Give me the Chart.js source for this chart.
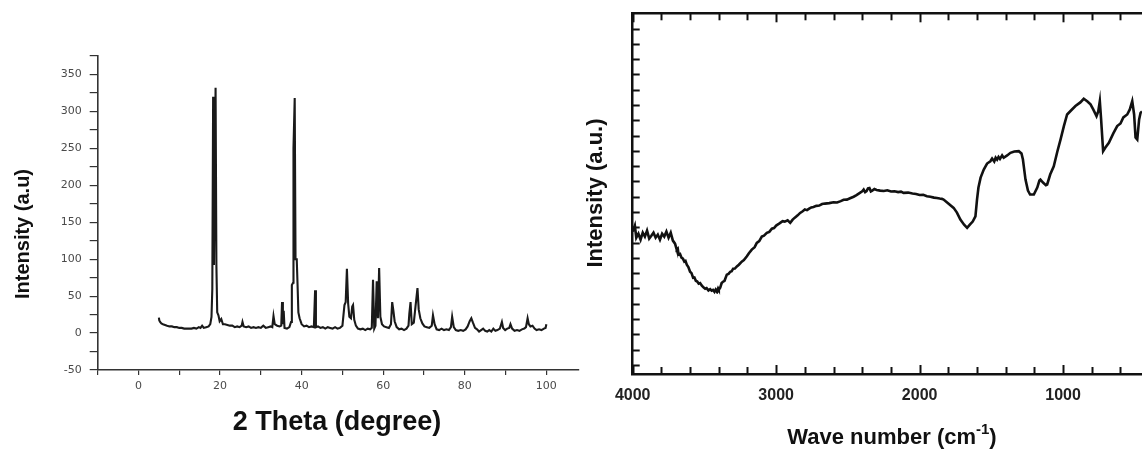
<!DOCTYPE html>
<html>
<head>
<meta charset="utf-8">
<title>XRD and FTIR</title>
<script src="https://cdn.jsdelivr.net/npm/chart.js@4.4.1/dist/chart.umd.min.js"></script>
<style>
    html, body { margin: 0; padding: 0; background: #fff; overflow: hidden; }
    body { width: 1142px; height: 450px; position: relative; }
    .panel { position: absolute; top: 0; }
    #xrdPanel { left: 0; width: 580px; height: 450px; }
    #ftirPanel { left: 580px; width: 562px; height: 450px; }
</style>
</head>
<body>
<div class="panel" id="xrdPanel"><canvas id="xrdChart" width="580" height="450"></canvas></div>
<div class="panel" id="ftirPanel"><canvas id="ftirChart" width="562" height="450"></canvas></div>
<script>
// ---- XRD pattern (left) ----
const xrdTheta = [
    5.0, 5.1, 5.3, 5.6, 6.0, 6.5, 7.0, 7.6, 8.2, 8.8,
    9.4, 10.0, 10.6, 11.2, 11.8, 12.4, 13.0, 13.6, 14.2, 14.8,
    15.2, 15.6, 16.0, 16.6, 17.2, 17.6, 17.9, 18.1, 18.3, 18.5,
    18.9, 19.1, 19.3, 19.6, 19.9, 20.3, 20.7, 21.2, 21.8, 22.4,
    23.0, 23.6, 24.2, 24.8, 25.3, 25.5, 25.8, 26.4, 27.0, 27.6,
    28.2, 28.8, 29.4, 30.0, 30.6, 31.2, 31.8, 32.4, 32.8, 33.1,
    33.4, 34.0, 34.6, 35.0, 35.2, 35.4, 35.6, 35.8, 36.4, 37.0,
    37.4, 37.6, 37.9, 38.0, 38.3, 38.5, 38.8, 39.0, 39.2, 39.5,
    40.0, 40.6, 41.2, 41.8, 42.4, 43.0, 43.3, 43.5, 44.0, 44.6,
    45.2, 45.8, 46.4, 47.0, 47.6, 48.2, 48.8, 49.4, 50.0, 50.5,
    50.8, 51.1, 51.4, 51.7, 52.1, 52.4, 52.6, 52.9, 53.3, 53.8,
    54.4, 55.0, 55.6, 56.2, 56.8, 57.2, 57.5, 57.8, 58.1, 58.4,
    58.7, 59.0, 59.3, 59.7, 60.2, 60.8, 61.4, 61.9, 62.2, 62.5,
    62.8, 63.3, 63.9, 64.5, 65.1, 65.7, 66.2, 66.4, 66.7, 67.0,
    67.5, 67.9, 68.4, 68.7, 69.1, 69.6, 70.1, 70.7, 71.3, 71.9,
    72.2, 72.6, 73.1, 73.7, 74.3, 74.9, 75.5, 76.1, 76.6, 76.9,
    77.3, 77.8, 78.4, 79.0, 79.6, 80.2, 80.7, 81.2, 81.6, 82.0,
    82.5, 83.0, 83.5, 84.0, 84.5, 85.0, 85.5, 86.0, 86.5, 87.0,
    87.5, 88.0, 88.6, 89.1, 89.4, 89.9, 90.4, 90.9, 91.2, 91.6,
    92.2, 92.8, 93.4, 94.0, 94.6, 95.0, 95.4, 95.7, 96.1, 96.6,
    97.1, 97.6, 98.2, 98.8, 99.4, 99.8, 100.0
];
const xrdIntensity = [
    21, 17, 15, 13, 12, 11, 10, 9, 9, 8,
    8, 7, 7, 6, 6, 6, 6, 7, 6, 8,
    7, 10, 7, 8, 9, 12, 22, 60, 320, 92,
    332, 92, 28, 24, 16, 19, 12, 12, 11, 10,
    10, 8, 9, 8, 10, 15, 9, 8, 9, 7,
    8, 7, 8, 7, 10, 7, 8, 9, 8, 23,
    12, 10, 9, 10, 42, 12, 30, 7, 6, 8,
    15, 65, 68, 250, 318, 100, 100, 65, 28, 20,
    12, 9, 10, 8, 9, 8, 58, 8, 9, 7,
    8, 6, 8, 7, 6, 8, 6, 7, 10, 38,
    42, 87, 40, 22, 20, 36, 38, 18, 10, 6,
    5, 6, 4, 6, 5, 7, 72, 6, 10, 70,
    20, 88, 22, 12, 9, 8, 7, 12, 42, 30,
    16, 8, 5, 6, 4, 6, 10, 26, 42, 12,
    14, 35, 61, 32, 20, 13, 9, 8, 7, 10,
    24, 12, 5, 4, 6, 4, 5, 4, 8, 22,
    8, 4, 3, 4, 3, 5, 9, 16, 20, 14,
    7, 5, 2, 4, 6, 3, 2, 4, 2, 6,
    3, 4, 6, 15, 7, 4, 6, 7, 12, 6,
    3, 4, 3, 5, 6, 8, 20, 12, 9, 10,
    6, 4, 5, 4, 6, 7, 12
];
const xrdXTicks = [-10, 0, 10, 20, 30, 40, 50, 60, 70, 80, 90, 100];
const xrdXLabels = [0, 20, 40, 60, 80, 100];
const xrdYTicks = [-50, -25, 0, 25, 50, 75, 100, 125, 150, 175, 200, 225, 250, 275, 300, 325, 350, 375];
const xrdYLabels = [-50, 0, 50, 100, 150, 200, 250, 300, 350];

// ---- FTIR spectrum (right) ----
const ftirWavenumber = [
    4000, 3985, 3975, 3960, 3945, 3930, 3915, 3900, 3885, 3870,
    3855, 3840, 3825, 3810, 3795, 3780, 3765, 3750, 3735, 3720,
    3705, 3698, 3693, 3686, 3680, 3670, 3660, 3650, 3640, 3632,
    3623, 3612, 3600, 3590, 3579, 3570, 3560, 3550, 3540, 3530,
    3518, 3505, 3495, 3485, 3472, 3460, 3450, 3440, 3430, 3422,
    3414, 3405, 3400, 3390, 3380, 3370, 3360, 3344, 3332, 3320,
    3310, 3300, 3288, 3274, 3260, 3240, 3225, 3204, 3190, 3170,
    3150, 3135, 3118, 3100, 3085, 3065, 3048, 3030, 3015, 3000,
    2985, 2972, 2955, 2940, 2920, 2902, 2885, 2870, 2850, 2833,
    2815, 2800, 2785, 2770, 2755, 2740, 2720, 2700, 2680, 2660,
    2630, 2600, 2575, 2550, 2530, 2507, 2485, 2460, 2440, 2414,
    2400, 2390, 2380, 2370, 2360, 2350, 2340, 2330, 2315, 2300,
    2275, 2250, 2225, 2200, 2175, 2150, 2130, 2112, 2080, 2050,
    2025, 2000, 1975, 1949, 1925, 1900, 1880, 1860, 1845, 1833,
    1800, 1763, 1740, 1716, 1690, 1669, 1650, 1630, 1611, 1600,
    1590, 1575, 1553, 1530, 1507, 1495, 1480, 1470, 1460, 1450,
    1440, 1425, 1414, 1390, 1367, 1340, 1309, 1290, 1280, 1262,
    1245, 1230, 1204, 1180, 1165, 1158, 1140, 1120, 1111, 1090,
    1065, 1040, 1018, 995, 972, 945, 914, 880, 856, 830,
    809, 790, 767, 755, 744, 735, 721, 705, 681, 650,
    623, 600, 580, 553, 535, 518, 505, 495, 483, 470,
    460, 450
];
const ftirIntensity = [
    8.72, 9.11, 8.32, 8.58, 8.19, 8.65, 8.39, 8.78, 8.26, 8.45,
    8.65, 8.32, 8.52, 8.19, 8.58, 8.39, 8.72, 8.32, 8.65, 8.13,
    7.93, 7.70, 7.54, 7.60, 7.21, 7.25, 7.01, 6.95, 6.75, 6.80,
    6.55, 6.40, 6.09, 6.00, 5.70, 5.72, 5.50, 5.45, 5.31, 5.35,
    5.18, 5.05, 4.98, 5.02, 4.87, 4.95, 4.85, 4.90, 4.78, 4.92,
    4.80, 5.00, 4.91, 5.05, 5.35, 5.44, 5.50, 5.90, 5.95, 6.09,
    6.12, 6.29, 6.30, 6.44, 6.55, 6.75, 6.85, 7.10, 7.30, 7.54,
    7.70, 7.98, 8.10, 8.39, 8.45, 8.63, 8.70, 8.91, 8.95, 9.11,
    9.20, 9.29, 9.40, 9.37, 9.45, 9.29, 9.50, 9.63, 9.78, 9.94,
    10.05, 10.16, 10.12, 10.22, 10.30, 10.33, 10.40, 10.42, 10.52, 10.55,
    10.58, 10.64, 10.62, 10.71, 10.80, 10.81, 10.90, 11.00, 11.10, 11.27,
    11.35, 11.47, 11.30, 11.37, 11.55, 11.57, 11.35, 11.40, 11.50, 11.44,
    11.40, 11.37, 11.42, 11.34, 11.36, 11.30, 11.33, 11.25, 11.27, 11.21,
    11.18, 11.11, 11.12, 11.03, 11.00, 10.94, 10.92, 10.88, 10.86, 10.81,
    10.55, 10.27, 9.96, 9.50, 9.17, 8.96, 9.17, 9.37, 9.72, 10.81,
    11.60, 12.25, 12.78, 13.17, 13.32, 13.50, 13.30, 13.55, 13.43, 13.60,
    13.47, 13.70, 13.55, 13.70, 13.87, 13.96, 13.98, 13.83, 13.43, 12.12,
    11.40, 11.14, 11.14, 11.60, 12.06, 12.12, 11.93, 11.76, 11.80, 12.45,
    12.99, 13.96, 14.74, 15.60, 16.38, 16.64, 16.93, 17.17, 17.41, 17.23,
    17.04, 16.71, 16.27, 16.58, 17.25, 16.06, 13.98, 14.22, 14.53, 15.14,
    15.62, 15.79, 16.19, 16.38, 16.71, 17.25, 16.38, 14.88, 14.74, 16.06,
    16.49, 16.58
];
const ftirXTicks = [4000, 3800, 3600, 3400, 3200, 3000, 2800, 2600, 2400, 2200, 2000,
    1800, 1600, 1400, 1200, 1000, 800, 600];
const ftirXLabels = [4000, 3000, 2000, 1000];
const ftirYTicks = [0, 1, 2, 3, 4, 5, 6, 7, 8, 9, 10, 11, 12, 13, 14, 15, 16, 17, 18, 19, 20, 21, 22];

// draws tick marks pointing into the plot area
const inwardTicks = {
    id: 'inwardTicks',
    afterDatasetsDraw(chart, args, opts) {
        const ctx = chart.ctx;
        const area = chart.chartArea;
        ctx.save();
        ctx.strokeStyle = opts.color;
        ctx.lineWidth = opts.width;
        Object.values(chart.scales).forEach(scale => {
            scale.ticks.forEach(t => {
                const p = Math.round(scale.getPixelForValue(t.value)) + 0.5;
                let len = opts.length;
                if (scale.isHorizontal() && t.value % opts.majorStep === 0) len = opts.majorLength;
                ctx.beginPath();
                if (scale.position === 'bottom') {
                    ctx.moveTo(p, area.bottom);
                    ctx.lineTo(p, area.bottom - len);
                } else if (scale.position === 'top') {
                    ctx.moveTo(p, area.top);
                    ctx.lineTo(p, area.top + len);
                } else {
                    ctx.moveTo(area.left, p);
                    ctx.lineTo(area.left + len, p);
                }
                ctx.stroke();
            });
        });
        ctx.restore();
    }
};

// axis titles, with optional superscript part
const axisTitles = {
    id: 'axisTitles',
    afterDraw(chart, args, opts) {
        const ctx = chart.ctx;
        opts.items.forEach(item => {
            ctx.save();
            ctx.translate(item.x, item.y);
            ctx.rotate(item.rotate || 0);
            ctx.fillStyle = item.color;
            ctx.textBaseline = 'middle';
            if (item.sup) {
                ctx.font = item.font;
                const w1 = ctx.measureText(item.text).width;
                const w3 = ctx.measureText(item.tail).width;
                ctx.font = item.supFont;
                const w2 = ctx.measureText(item.sup).width;
                const x = -(w1 + w2 + w3) / 2;
                ctx.textAlign = 'left';
                ctx.font = item.font;
                ctx.fillText(item.text, x, 0);
                ctx.font = item.supFont;
                ctx.fillText(item.sup, x + w1, item.supShift);
                ctx.font = item.font;
                ctx.fillText(item.tail, x + w1 + w2, 0);
            } else {
                ctx.textAlign = 'center';
                ctx.font = item.font;
                ctx.fillText(item.text, 0, 0);
            }
            ctx.restore();
        });
    }
};

const xrdCtx = document.getElementById('xrdChart').getContext('2d');
new Chart(xrdCtx, {
    type: 'line',
    data: {
        datasets: [{
            data: xrdTheta.map((t, i) => ({ x: t, y: xrdIntensity[i] })),
            borderColor: '#1a1a1a',
            borderWidth: 2.1,
            pointRadius: 0,
            tension: 0,
            fill: false
        }]
    },
    plugins: [axisTitles],
    options: {
        responsive: false,
        animation: false,
        layout: { padding: { top: 56, right: 1, bottom: 0, left: 0 } },
        plugins: {
            legend: { display: false },
            tooltip: { enabled: false },
            axisTitles: {
                items: [
                    { text: 'Intensity (a.u)', x: 23, y: 234, rotate: -Math.PI / 2,
                      font: 'bold 20px "Liberation Sans", Arial, sans-serif', color: '#111' },
                    { text: '2 Theta (degree)', x: 337, y: 423,
                      font: 'bold 27px "Liberation Sans", Arial, sans-serif', color: '#111' }
                ]
            }
        },
        scales: {
            x: {
                type: 'linear',
                min: -10,
                max: 108,
                afterBuildTicks: scale => { scale.ticks = xrdXTicks.map(v => ({ value: v })); },
                afterFit: scale => { scale.height = 80; },
                grid: { drawOnChartArea: false, drawTicks: true, tickLength: 5, color: '#333', lineWidth: 1.2 },
                border: { display: true, color: '#333', width: 1.6 },
                ticks: {
                    autoSkip: false,
                    maxRotation: 0,
                    padding: 5,
                    color: '#4a4a4a',
                    font: { family: '"DejaVu Sans", sans-serif', size: 11 },
                    callback: value => xrdXLabels.includes(value) ? String(value) : ''
                }
            },
            y: {
                type: 'linear',
                min: -50,
                max: 375,
                afterBuildTicks: scale => { scale.ticks = xrdYTicks.map(v => ({ value: v })); },
                afterFit: scale => { scale.width = 97.7; },
                grid: { drawOnChartArea: false, drawTicks: true, tickLength: 8, color: '#333', lineWidth: 1.2 },
                border: { display: true, color: '#333', width: 1.6 },
                ticks: {
                    autoSkip: false,
                    padding: 8,
                    color: '#4a4a4a',
                    font: { family: '"DejaVu Sans", sans-serif', size: 11 },
                    callback: value => xrdYLabels.includes(value) ? String(value) : ''
                }
            }
        }
    }
});

const ftirCtx = document.getElementById('ftirChart').getContext('2d');
new Chart(ftirCtx, {
    type: 'line',
    data: {
        datasets: [{
            data: ftirWavenumber.map((w, i) => ({ x: w, y: ftirIntensity[i] })),
            xAxisID: 'x',
            yAxisID: 'y',
            borderColor: '#111',
            borderWidth: 2.6,
            pointRadius: 0,
            tension: 0,
            fill: false
        }]
    },
    plugins: [inwardTicks, axisTitles],
    options: {
        responsive: false,
        animation: false,
        layout: { padding: 0 },
        plugins: {
            legend: { display: false },
            tooltip: { enabled: false },
            inwardTicks: { color: '#111', width: 2, length: 7, majorLength: 9, majorStep: 1000 },
            axisTitles: {
                items: [
                    { text: 'Intensity (a.u.)', x: 16, y: 193, rotate: -Math.PI / 2,
                      font: 'bold 22px "Liberation Sans", Arial, sans-serif', color: '#111' },
                    { text: 'Wave number (cm', sup: '-1', tail: ')', x: 312, y: 438,
                      font: 'bold 22px "Liberation Sans", Arial, sans-serif',
                      supFont: 'bold 15px "Liberation Sans", Arial, sans-serif', supShift: -8,
                      color: '#111' }
                ]
            }
        },
        scales: {
            x: {
                type: 'linear',
                position: 'bottom',
                reverse: true,
                min: 450,
                max: 4000,
                afterBuildTicks: scale => { scale.ticks = ftirXTicks.map(v => ({ value: v })); },
                afterFit: scale => { scale.height = 76; },
                grid: { drawOnChartArea: false, drawTicks: false },
                border: { display: true, color: '#111', width: 2.5 },
                ticks: {
                    autoSkip: false,
                    maxRotation: 0,
                    padding: 12,
                    color: '#222',
                    font: { family: '"Liberation Sans", Arial, sans-serif', size: 16, weight: 'bold' },
                    callback: value => ftirXLabels.includes(value) ? String(value) : ''
                }
            },
            xTop: {
                type: 'linear',
                position: 'top',
                reverse: true,
                min: 450,
                max: 4000,
                afterBuildTicks: scale => { scale.ticks = ftirXTicks.map(v => ({ value: v })); },
                afterFit: scale => { scale.height = 13.3; },
                grid: { drawOnChartArea: false, drawTicks: false },
                border: { display: true, color: '#111', width: 2.5 },
                ticks: { display: false }
            },
            y: {
                type: 'linear',
                min: -0.6,
                max: 23,
                afterBuildTicks: scale => { scale.ticks = ftirYTicks.map(v => ({ value: v })); },
                afterFit: scale => { scale.width = 52.7; },
                grid: { drawOnChartArea: false, drawTicks: false },
                border: { display: true, color: '#111', width: 2.5 },
                ticks: { display: false }
            }
        }
    }
});
</script>
</body>
</html>
